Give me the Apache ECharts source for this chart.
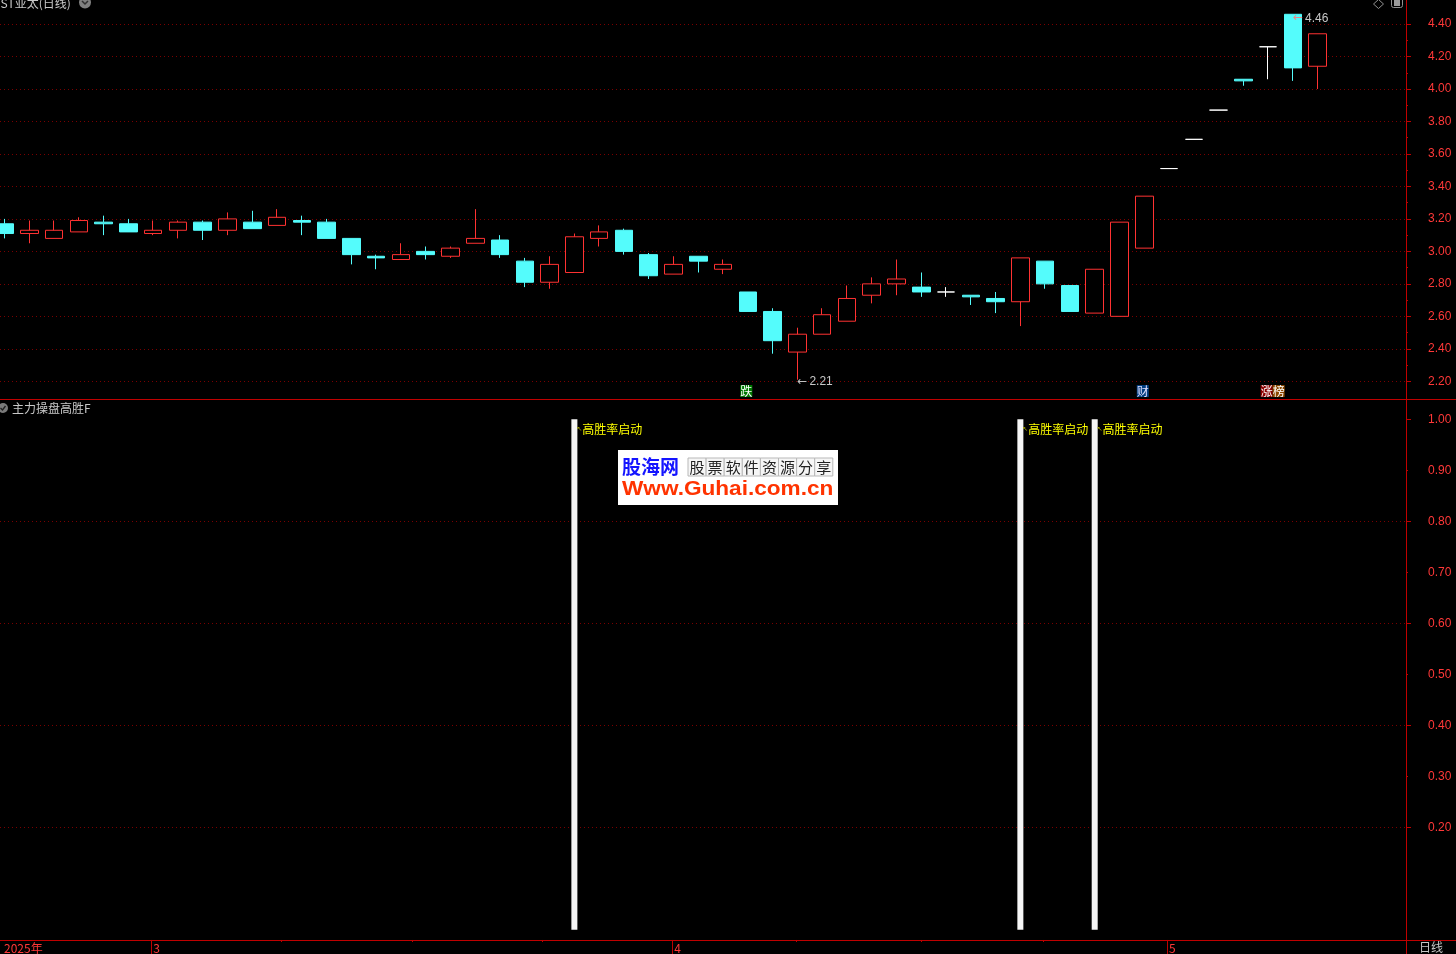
<!DOCTYPE html>
<html><head><meta charset="utf-8">
<script src="https://cdn.jsdelivr.net/npm/echarts@6/dist/echarts.min.js"></script>
<style>html,body{margin:0;padding:0;background:#000;overflow:hidden}#c{width:1456px;height:954px;}</style>
</head><body><div id="c"></div>
<script>
// ---------- data ----------
const dates = ['2025-02-21','2025-02-24','2025-02-25','2025-02-26','2025-02-27','2025-02-28',
 '2025-03-03','2025-03-04','2025-03-05','2025-03-06','2025-03-07','2025-03-10','2025-03-11','2025-03-12','2025-03-13','2025-03-14',
 '2025-03-17','2025-03-18','2025-03-19','2025-03-20','2025-03-21','2025-03-24','2025-03-25','2025-03-26','2025-03-27','2025-03-28','2025-03-31',
 '2025-04-01','2025-04-02','2025-04-03','2025-04-07','2025-04-08','2025-04-09','2025-04-10','2025-04-11','2025-04-14','2025-04-15','2025-04-16',
 '2025-04-17','2025-04-18','2025-04-21','2025-04-22','2025-04-23','2025-04-24','2025-04-25','2025-04-28','2025-04-29',
 '2025-05-06','2025-05-07','2025-05-08','2025-05-09','2025-05-12','2025-05-13','2025-05-14'];
const openP  = [3.17,3.11,3.08,3.12,3.18,3.17,3.11,3.13,3.18,3.13,3.18,3.16,3.19,3.18,3.08,2.97,2.95,3.00,2.97,3.05,3.07,2.94,2.81,2.87,3.08,3.13,2.98,2.86,2.97,2.89,2.75,2.63,2.38,2.49,2.57,2.73,2.80,2.78,2.75,2.73,2.71,2.69,2.94,2.79,2.62,2.60,3.02,3.51,3.69,3.87,4.06,4.26,4.46,4.14];
const closeP = [3.11,3.13,3.13,3.19,3.17,3.12,3.13,3.18,3.13,3.20,3.14,3.21,3.18,3.08,2.98,2.96,2.98,2.98,3.02,3.08,2.98,2.81,2.92,3.09,3.12,3.00,2.85,2.92,2.94,2.92,2.63,2.45,2.49,2.61,2.71,2.80,2.83,2.75,2.75,2.72,2.69,2.96,2.80,2.63,2.89,3.18,3.34,3.51,3.69,3.87,4.05,4.26,4.13,4.34];
const lowP   = [3.08,3.05,3.08,3.12,3.10,3.12,3.10,3.08,3.07,3.10,3.14,3.16,3.10,3.08,2.92,2.89,2.95,2.95,2.96,3.05,2.96,2.78,2.77,2.87,3.03,2.98,2.83,2.86,2.87,2.86,2.63,2.37,2.21,2.49,2.57,2.68,2.73,2.72,2.72,2.67,2.62,2.54,2.77,2.63,2.62,2.60,3.02,3.51,3.69,3.87,4.02,4.06,4.05,4.00];
const highP  = [3.20,3.19,3.19,3.21,3.22,3.20,3.19,3.19,3.19,3.24,3.25,3.26,3.22,3.20,3.08,2.98,3.05,3.03,3.03,3.26,3.10,2.96,2.97,3.11,3.16,3.14,2.99,2.97,2.97,2.95,2.75,2.65,2.53,2.65,2.79,2.84,2.95,2.87,2.78,2.73,2.75,2.96,2.94,2.79,2.89,3.18,3.34,3.51,3.69,3.87,4.06,4.26,4.46,4.34];
const signalIdx = [23, 41, 44];
const signalText = '高胜率启动';
const markerIdx = [30, 46, 51];
const markerText = ['跌', '财', '涨榜'];
const priceLabels = [2.2,2.4,2.6,2.8,3.0,3.2,3.4,3.6,3.8,4.0,4.2,4.4];
const priceMinor = [2.3,2.5,2.7,2.9,3.1,3.3,3.5,3.7,3.9,4.1,4.3];
const indLabels = [0.2,0.3,0.4,0.5,0.6,0.7,0.8,0.9,1.0];
const indMajor = [0.2,0.4,0.6,0.8,1.0];
const indMinor = [0.3,0.5,0.7,0.9];
const indGrid = [0.2,0.4,0.6,0.8];
const weekTicks = [5.92,11.17,16.46,21.7,26.95,31.97,36.98,41.94,46.92];
const monthTicks = [5.92,26.95,46.92];
const dateLabelPos = [-0.1,5.92,26.95,46.92];
const dateLabels = ['2025年','3','4','5'];

// ---------- style / layout ----------
const UP = '#ff3232', DOWN = '#54fcfc', FLAT = '#ffffff';
const AXIS = '#c00000', LABEL = '#ff3838', GRIDC = '#7a0000', TXT = '#c8c8c8';
const NUMF = '"Liberation Sans", Arial, sans-serif';
const CJKF = '"Noto Sans CJK SC", sans-serif';
const XMIN = -0.1816, XMAX = 56.564;   // visible index window
const MARK_Y = 2.14;

const candleData = dates.map((d, i) => {
  const v = [i, openP[i], closeP[i], lowP[i], highP[i]];
  if (openP[i] === closeP[i]) {
    return {value: v, itemStyle: {color: FLAT, color0: FLAT, borderColor: FLAT, borderColor0: FLAT}};
  }
  return v;
});
const sigData = signalIdx.map(i => [i, 1]);

let hiIdx = 0, loIdx = 0;
highP.forEach((v, i) => { if (v > highP[hiIdx]) hiIdx = i; });
lowP.forEach((v, i) => { if (v < lowP[loIdx]) loIdx = i; });

const richMark = {
  g: {backgroundColor: '#007a00', color: '#fff', fontSize: 12, fontFamily: CJKF, lineHeight: 13},
  b: {backgroundColor: '#003c80', color: '#e0e0ff', fontSize: 12, fontFamily: CJKF, lineHeight: 13},
  r: {backgroundColor: '#8c0000', color: '#fff', fontSize: 12, fontFamily: CJKF, lineHeight: 13},
  o: {backgroundColor: '#8c4800', color: '#fff', fontSize: 12, fontFamily: CJKF, lineHeight: 13}
};
const charStyle = {'跌': 'g', '财': 'b', '涨': 'r', '榜': 'o'};
const markerPts = markerIdx.map((ix, k) => ({
  coord: [ix, MARK_Y],
  label: {show: true, position: 'inside', align: 'left', offset: [-7.5, 0],
    formatter: markerText[k].split('').map(ch => '{' + charStyle[ch] + '|' + ch + '}').join(''),
    rich: richMark}
}));
const arrowRich = (ac) => ({
  a: {color: ac, fontSize: 12, fontFamily: '"DejaVu Sans", sans-serif'},
  b: {color: TXT, fontSize: 12, fontFamily: NUMF, padding: [0, 0, 0, 2]}
});

const dotted = {color: GRIDC, width: 1, type: [1, 3]};
const hiddenX = (g) => ({type: 'value', gridIndex: g, min: XMIN, max: XMAX,
  axisLine: {show: false, onZero: false}, axisTick: {show: false}, axisLabel: {show: false}, splitLine: {show: false}});

const option = {
  backgroundColor: '#000',
  animation: false,
  grid: [
    {left: 0, right: 50, top: 0, height: 399},
    {left: 0, right: 50, top: 400, height: 540}
  ],
  xAxis: [
    hiddenX(0),
    hiddenX(1),
    {type: 'value', gridIndex: 1, min: XMIN, max: XMAX, position: 'bottom',
      axisLine: {show: true, onZero: false, lineStyle: {color: AXIS}},
      axisTick: {show: true, length: 2, customValues: weekTicks, lineStyle: {color: AXIS}},
      axisLabel: {show: false}, splitLine: {show: false}},
    {type: 'value', gridIndex: 1, min: XMIN, max: XMAX, position: 'bottom',
      axisLine: {show: false, onZero: false},
      axisTick: {show: true, length: 14, customValues: monthTicks, lineStyle: {color: AXIS}},
      axisLabel: {show: true, customValues: dateLabelPos, align: 'left', margin: 2, padding: [0, 0, 0, 2],
        color: LABEL, fontSize: 12, fontFamily: CJKF,
        formatter: (v) => { let k = 0; dateLabelPos.forEach((p, j) => { if (Math.abs(p - v) < Math.abs(dateLabelPos[k] - v)) k = j; }); return dateLabels[k]; }},
      splitLine: {show: false}}
  ],
  yAxis: [
    {type: 'value', gridIndex: 0, position: 'right', min: 2.091, max: 4.548,
      axisLine: {show: true, onZero: false, lineStyle: {color: AXIS}},
      axisTick: {show: true, length: 5, customValues: priceLabels, lineStyle: {color: AXIS}},
      axisLabel: {show: true, customValues: priceLabels, margin: 22, color: LABEL, fontSize: 12, fontFamily: NUMF, formatter: v => v.toFixed(2)},
      splitLine: {show: true, lineStyle: dotted}},
    {type: 'value', gridIndex: 0, position: 'right', min: 2.091, max: 4.548,
      axisLine: {show: false, onZero: false},
      axisTick: {show: true, length: 2, customValues: priceMinor, lineStyle: {color: AXIS}},
      axisLabel: {show: false}, splitLine: {show: false}},
    {type: 'value', gridIndex: 1, position: 'right', min: -0.02, max: 1.0378,
      axisLine: {show: true, onZero: false, lineStyle: {color: AXIS}},
      axisTick: {show: true, length: 5, customValues: indMajor, lineStyle: {color: AXIS}},
      axisLabel: {show: true, customValues: indLabels, margin: 22, color: LABEL, fontSize: 12, fontFamily: NUMF, formatter: v => v.toFixed(2)},
      splitLine: {show: false}},
    {type: 'value', gridIndex: 1, position: 'right', min: -0.02, max: 1.0378,
      axisLine: {show: false, onZero: false},
      axisTick: {show: true, length: 2, customValues: indMinor, lineStyle: {color: AXIS}},
      axisLabel: {show: false}, splitLine: {show: false}},
    {type: 'value', gridIndex: 1, position: 'right', min: -0.02, max: 1.0378,
      axisLine: {show: false, onZero: false},
      axisTick: {show: false, customValues: indGrid},
      axisLabel: {show: false}, splitLine: {show: true, lineStyle: dotted}}
  ],
  series: [
    {type: 'candlestick', xAxisIndex: 0, yAxisIndex: 0, data: candleData, barWidth: 18,
      encode: {x: 0, y: [1, 2, 3, 4]},
      itemStyle: {color: '#000', color0: DOWN, borderColor: UP, borderColor0: DOWN, borderWidth: 1},
      markPoint: {symbol: 'circle', symbolSize: 0, silent: true, data: [
        {coord: [hiIdx, highP[hiIdx]], label: {show: true, position: 'right', distance: 0, offset: [0, 4],
          formatter: '{a|←}{b|' + highP[hiIdx].toFixed(2) + '}', rich: arrowRich('#e88a8a')}},
        {coord: [loIdx, lowP[loIdx]], label: {show: true, position: 'right', distance: 0, offset: [0, 2],
          formatter: '{a|←}{b|' + lowP[loIdx].toFixed(2) + '}', rich: arrowRich('#c0c0c0')}}
      ].concat(markerPts)}
    },
    {type: 'bar', xAxisIndex: 1, yAxisIndex: 2, data: sigData, barWidth: 6,
      itemStyle: {color: '#f6f6f6'},
      label: {show: true, position: [5, 10], align: 'left', verticalAlign: 'middle',
        formatter: '{a|↖}{b|' + signalText + '}',
        rich: {a: {color: '#b0b000', fontSize: 7, fontFamily: '"DejaVu Sans", sans-serif'},
               b: {color: '#ffff00', fontSize: 12, fontFamily: CJKF}}}
    }
  ],
  graphic: [
    {type: 'line', shape: {x1: 0, y1: 399.5, x2: 1456, y2: 399.5}, style: {stroke: AXIS, lineWidth: 1}, z: 50},
    {type: 'line', shape: {x1: 0, y1: 940.5, x2: 1456, y2: 940.5}, style: {stroke: AXIS, lineWidth: 1}, z: 50},
    {type: 'line', shape: {x1: 1406.5, y1: 0, x2: 1406.5, y2: 954}, style: {stroke: AXIS, lineWidth: 1}, z: 50},
    {type: 'text', x: -5, y: 3, style: {text: '*ST亚太(日线)', font: '12px ' + CJKF, fill: TXT, verticalAlign: 'middle'}, z: 60},
    {type: 'circle', shape: {cx: 85, cy: 2.5, r: 6}, style: {fill: '#808080'}, z: 60},
    {type: 'polyline', shape: {points: [[82, 1], [85, 4], [88, 1]]}, style: {stroke: '#303030', lineWidth: 1.5, fill: null}, z: 61},
    {type: 'polygon', shape: {points: [[1378.5, -0.5], [1383.5, 4], [1378.5, 8.5], [1373.5, 4]]}, style: {stroke: '#909090', fill: null, lineWidth: 1}, z: 60},
    {type: 'rect', shape: {x: 1391.5, y: -3.5, width: 11, height: 11, r: 2}, style: {stroke: '#909090', fill: null, lineWidth: 1}, z: 60},
    {type: 'rect', shape: {x: 1394, y: -2, width: 6, height: 8}, style: {fill: '#9a9a9a'}, z: 60},
    {type: 'circle', shape: {cx: 3, cy: 408, r: 5}, style: {fill: '#7a7a7a'}, z: 60},
    {type: 'polyline', shape: {points: [[0.5, 408], [2.5, 410], [5.5, 406]]}, style: {stroke: '#202020', lineWidth: 1.3, fill: null}, z: 61},
    {type: 'text', x: 12, y: 408, style: {text: '主力操盘高胜F', font: '12px ' + CJKF, fill: TXT, verticalAlign: 'middle'}, z: 60},
    {type: 'text', x: 1419, y: 947, style: {text: '日线', font: '12px ' + CJKF, fill: TXT, verticalAlign: 'middle'}, z: 60},
    {type: 'group', x: 618, y: 450, z: 70, children: (function () {
      const ch = [
        {type: 'rect', shape: {x: 0, y: 0, width: 220, height: 55}, style: {fill: '#ffffff'}},
        {type: 'text', x: 4, y: 17, style: {text: '股海网', font: 'bold 19px ' + CJKF, fill: '#1414ff', verticalAlign: 'middle'}},
        {type: 'text', x: 4, y: 39, scaleX: 1.13, style: {text: 'Www.Guhai.com.cn', font: 'bold 20px ' + NUMF, fill: '#ff3300', verticalAlign: 'middle'}}
      ];
      const s = '股票软件资源分享';
      for (let k = 0; k < s.length; k++) {
        ch.push({type: 'rect', shape: {x: 70 + k * 18.1, y: 8, width: 18.1, height: 18}, style: {fill: '#f6f6f6', stroke: '#b8b8b8', lineWidth: 1}});
        ch.push({type: 'text', x: 70 + k * 18.1 + 9, y: 17, style: {text: s[k], font: '15px ' + CJKF, fill: '#222', align: 'center', verticalAlign: 'middle'}});
      }
      return ch;
    })()}
  ]
};
const chart = echarts.init(document.getElementById('c'));
chart.setOption(option);
</script></body></html>
